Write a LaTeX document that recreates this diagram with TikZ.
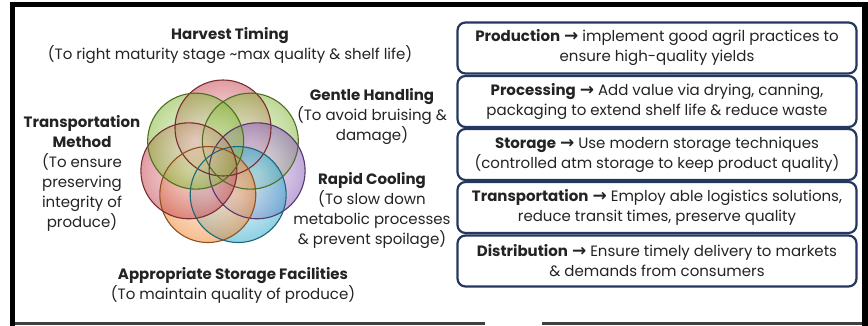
\documentclass[tikz,border=0pt]{standalone}
\usepackage{fontspec}
\usetikzlibrary{calc}
\setmainfont{Poppins}
\newfontfamily\arrowfont{DejaVu Sans}

\definecolor{boxblue}{RGB}{35,55,95}
\definecolor{txtgray}{RGB}{35,35,35}
\definecolor{petred}{RGB}{200,75,85}
\definecolor{petgreen}{RGB}{135,185,60}
\definecolor{petpurple}{RGB}{140,95,185}
\definecolor{petcyan}{RGB}{50,170,205}
\definecolor{petorange}{RGB}{240,135,50}

\newcommand{\chainarrow}{{\arrowfont\bfseries\fontsize{17}{20}\selectfont →}}

\begin{document}
\begin{tikzpicture}[x=1pt,y=1pt,
    lbl/.style={align=center, inner sep=0pt, text=txtgray,
      font=\fontsize{15}{20}\selectfont},
    stagebox/.style={draw=boxblue, line width=2.2pt, rounded corners=8pt,
      minimum width=399pt, minimum height=51pt, inner sep=0pt,
      align=center, text=txtgray, font=\fontsize{15}{20}\selectfont},
    petal/.style={inner color=#1!20, outer color=#1, fill opacity=0.55},
    rim/.style={draw=#1!60!black, line width=1.1pt}]

  \useasboundingbox (0,0) rectangle (868,-326);

  % frame
  \fill[black] (10,-2) rectangle (15,-326);
  \fill[black] (10,-2) rectangle (868,-7);
  \fill[black] (862,-2) rectangle (868,-326);
  \fill[black!75] (15,-322) rectangle (485,-325);
  \fill[black!75] (542,-322) rectangle (862,-325);

  % flower of circles
  \coordinate (hub) at (223,-163);
  \foreach \ang/\col in {90/petred, 38.6/petgreen, -12.9/petpurple,
      -64.3/petcyan, -115.7/petorange, -167.1/petred, 141.4/petgreen}
    \shade[petal=\col] ($(hub)+(\ang:35)$) circle (48);
  \foreach \ang/\col in {90/petred, 38.6/petgreen, -12.9/petpurple,
      -64.3/petcyan, -115.7/petorange, -167.1/petred, 141.4/petgreen}
    \draw[rim=\col] ($(hub)+(\ang:35)$) circle (48);

  % factor labels
  \node[lbl] (harvest) at (230,-46)
    {\textbf{Harvest Timing}\\(To right maturity stage \textasciitilde max quality \& shelf life)};
  \node[lbl] (gentle) at (372,-117)
    {\textbf{Gentle Handling}\\(To avoid bruising \&\\damage)};
  \node[lbl] (transport) at (82,-173)
    {\textbf{Transportation}\\\textbf{Method}\\(To ensure\\preserving\\integrity of\\produce)};
  \node[lbl] (cooling) at (372,-210.5)
    {\textbf{Rapid Cooling}\\(To slow down\\metabolic processes\\\& prevent spoilage)};
  \node[lbl] (storagefac) at (233,-285)
    {\textbf{Appropriate Storage Facilities}\\(To maintain quality of produce)};

  % supply chain stages
  \node[stagebox] (production) at (657,-48)
    {\textbf{Production} \chainarrow{} implement good agril practices to\\ensure high-quality yields};
  \node[stagebox] (processing) at (657,-101.5)
    {\textbf{Processing} \chainarrow{} Add value via drying, canning,\\packaging to extend shelf life \& reduce waste};
  \node[stagebox] (storage) at (657,-154.5)
    {\textbf{Storage} \chainarrow{} Use modern storage techniques\\(controlled atm storage to keep product quality)};
  \node[stagebox] (transportation) at (657,-207.5)
    {\textbf{Transportation} \chainarrow{} Employ able logistics solutions,\\reduce transit times, preserve quality};
  \node[stagebox] (distribution) at (657,-261)
    {\textbf{Distribution} \chainarrow{} Ensure timely delivery to markets\\\& demands from consumers};

\end{tikzpicture}
\end{document}
